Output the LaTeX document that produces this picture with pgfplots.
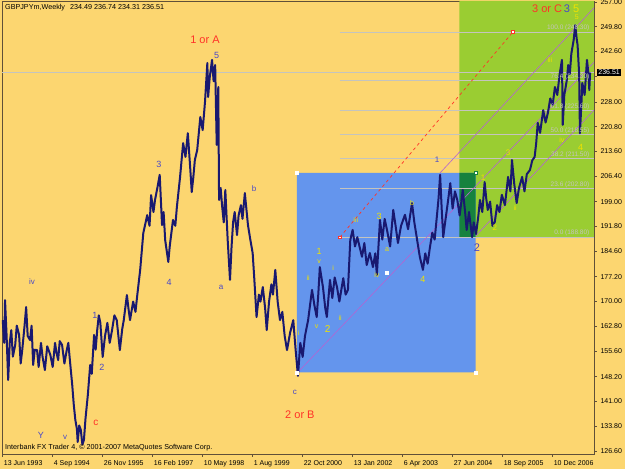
\documentclass[border=0pt]{standalone}
\usepackage{pgfplots}
\pgfplotsset{compat=1.18}
\usepackage{fontspec}
\setmainfont{Liberation Sans}
\definecolor{bgcol}{RGB}{252,214,112}
\definecolor{bluebox}{RGB}{100,149,237}
\definecolor{greenbox}{RGB}{154,205,50}
\definecolor{dkgreen}{RGB}{22,130,62}
\definecolor{price}{RGB}{25,25,112}
\definecolor{axcol}{RGB}{96,80,56}
\definecolor{fibgrey}{RGB}{196,196,190}
\definecolor{purp}{RGB}{180,100,210}
\definecolor{wred}{RGB}{255,50,40}
\definecolor{wblue}{RGB}{72,72,200}
\definecolor{wyel}{RGB}{240,226,0}
\pgfplotstableread{
w p
0 164.6
2 158.0
3 170.4
5 160.0
7 147.2
9 158.0
11 161.7
13 154.0
16 157.4
18 163.0
21 160.3
23 152.0
25 155.9
28 163.0
30 168.4
32 160.0
35 158.8
37 163.0
39 151.6
41 156.0
44 155.9
46 151.0
49 158.0
51 154.0
54 150.1
57 157.0
61 154.5
64 151.0
67 158.0
69 155.0
71 153.0
73 158.5
76 157.4
79 152.0
82 155.9
84 158.0
86 153.0
89 145.8
91 140.0
93 135.6
95 133.0
96 129.2
98 134.0
100 132.7
102 128.5
104 129.8
106 136.0
109 142.9
112 151.6
114 149.0
117 160.3
119 156.0
121 161.7
123 166.0
125 163.8
128 153.9
131 160.0
134 163.8
137 158.0
140 161.7
143 166.0
146 164.6
150 155.9
153 162.0
155 164.6
159 171.9
161 168.0
163 164.6
167 170.0
170 167.0
172 171.3
176 179.2
180 189.9
183 193.0
185 195.1
188 192.0
190 200.9
193 196.0
195 199.5
198 203.0
201 206.8
204 192.2
206 196.0
208 187.9
212 181.5
214 186.4
216 190.0
218 193.7
221 192.0
223 197.5
227 206.0
231 216.0
234 212.0
237 218.9
240 209.0
242 201.8
244 206.0
246 211.1
249 214.0
253 223.6
256 219.8
259 228.0
262 239.3
263 229.4
265 235.0
268 240.2
270 234.0
272 238.7
274 215.5
276 232.3
277 199.5
279 203.0
281 197.5
283 193.0
285 202.4
288 188.0
291 176.3
293 186.0
295 193.1
297 196.0
300 189.3
302 195.0
305 198.0
307 194.0
310 201.5
314 192.2
317 188.0
320 184.1
322 177.0
325 165.5
328 172.0
330 170.0
333 174.2
336 168.0
338 161.7
341 170.0
344 175.0
346 172.0
349 179.2
352 170.0
355 164.6
358 167.0
361 160.0
364 155.9
368 161.0
372 164.6
375 156.0
378 148.4
381 158.0
384 153.9
387 160.0
391 164.6
396 173.4
399 169.0
402 165.5
404 172.0
406 180.0
410 174.2
413 168.0
415 165.5
419 176.3
422 171.0
425 177.0
428 174.2
431 170.0
436 176.8
439 172.0
442 173.4
445 187.9
448 190.8
451 186.0
454 188.7
457 185.8
460 183.0
463 187.0
466 180.6
470 184.1
474 180.0
477 184.0
479 177.7
483 193.7
486 188.0
489 194.0
492 190.8
496 186.0
500 196.6
503 192.0
506 187.0
510 192.0
515 195.2
519 191.0
524 198.6
527 193.0
530 188.7
534 183.0
538 179.2
541 184.0
544 181.0
547 185.8
550 190.0
553 188.0
556 195.1
558 200.0
560 206.8
562 197.0
564 188.7
567 194.0
570 199.0
573 204.4
576 197.0
579 202.0
582 199.5
585 195.0
589 202.4
592 196.0
594 190.8
597 196.0
601 188.7
603 193.0
606 189.6
609 195.0
611 199.5
614 196.0
617 204.7
619 200.0
621 196.6
624 199.0
627 192.0
630 193.1
633 198.0
636 196.0
639 201.0
643 198.0
647 206.2
650 202.0
652 211.1
655 204.0
658 198.6
661 203.0
665 206.2
668 202.0
671 207.0
675 208.2
678 211.0
681 212.0
683 216.0
685 221.9
688 219.0
692 225.6
695 222.0
698 224.8
701 229.0
704 227.0
707 232.3
710 230.0
713 236.0
716 240.2
717 221.3
719 230.0
722 234.0
724 238.7
726 236.0
728 242.0
731 246.0
733 250.3
735 246.0
736 244.5
738 236.0
739 218.9
741 228.0
742 233.5
745 230.0
748 240.2
750 236.0
751 231.4
752 236.5
}\pricedata
\newcommand{\lab}[5]{\node[text=#3,font=\fontsize{#4}{#4}\selectfont,inner sep=0pt] at (axis cs:#1,#2) {#5};}
\begin{document}
\begin{tikzpicture}
\useasboundingbox (0,0) rectangle (625pt,469pt);
\fill[bgcol] (0,0) rectangle (625pt,469pt);
\begin{axis}[
  at={(2pt,15pt)}, anchor=south west,
  scale only axis, width=592pt, height=453pt,
  xmin=-0.9, xmax=757, ymin=125.72, ymax=257.29,
  axis line style={draw=axcol, line width=0.8pt},
  tick align=outside, major tick length=3pt,
  tick style={draw=axcol, line width=0.6pt},
  xtick pos=left, ytick pos=right, yticklabel pos=right,
  xtick={0,64,...,704},
  xticklabels={13 Jun 1993,4 Sep 1994,26 Nov 1995,16 Feb 1997,10 May 1998,1 Aug 1999,22 Oct 2000,13 Jan 2002,6 Apr 2003,27 Jun 2004,18 Sep 2005,10 Dec 2006},
  xticklabel style={anchor=north west, inner xsep=1pt, font=\fontsize{7}{8}\selectfont},
  ytick={126.6,133.8,141.0,148.2,155.6,162.8,170.0,177.2,184.6,191.8,199.0,206.4,213.6,220.8,228.0,242.6,249.8,257.0},
  extra y ticks={235.4}, extra y tick labels={},
  yticklabel style={font=\fontsize{7}{8}\selectfont, /pgf/number format/.cd, fixed, fixed zerofill, precision=2, 1000 sep={}, assume math mode=true},
  /pgf/number format/assume math mode=true,
  clip=true,
]
% coloured zones
\addplot[fill=greenbox, draw=none] coordinates {(584.5,188.8) (757,188.8) (757,257.29) (584.5,257.29) (584.5,188.8)};
\addplot[fill=bluebox, draw=none] coordinates {(376.5,149.4) (605.5,149.4) (605.5,207.4) (376.5,207.4) (376.5,149.4)};
\addplot[fill=dkgreen, draw=none] coordinates {(584.5,188.8) (605.5,188.8) (605.5,207.4) (584.5,207.4) (584.5,188.8)};
% price line (current)
\addplot[fibgrey, line width=0.6pt] coordinates {(-0.9,236.51) (757,236.51)};
% fibonacci levels
\addplot[fibgrey, line width=0.6pt] coordinates {(431.7,188.8) (757,188.8)};
\addplot[fibgrey, line width=0.6pt] coordinates {(431.7,202.8) (757,202.8)};
\addplot[fibgrey, line width=0.6pt] coordinates {(431.7,211.5) (757,211.5)};
\addplot[fibgrey, line width=0.6pt] coordinates {(431.7,218.55) (757,218.55)};
\addplot[fibgrey, line width=0.6pt] coordinates {(431.7,225.6) (757,225.6)};
\addplot[fibgrey, line width=0.6pt] coordinates {(431.7,234.3) (757,234.3)};
\addplot[fibgrey, line width=0.6pt] coordinates {(431.7,248.3) (757,248.3)};
% channel lines
\addplot[purp, line width=0.6pt] coordinates {(376.7,149.2) (757,239.5)};
\addplot[purp, line width=0.6pt] coordinates {(559.7,207.3) (757,255.3)};
\addplot[purp, line width=0.6pt] coordinates {(605.8,189.1) (757,225.6)};
% red dashed expansion line
\addplot[wred, dashed, line width=0.7pt] coordinates {(431.7,188.7) (653.2,248.3)};
% price
\addplot[price, line width=2.0pt, line join=round] table[x=w,y=p] {\pricedata};
% anchor squares
\addplot[only marks, mark=square*, mark size=1.4pt, mark options={fill=white, draw=white}] coordinates {(376.5,207.4) (605.5,149.4) (376.5,149.4) (492,178.3)};
\addplot[only marks, mark=square*, mark size=1.4pt, mark options={fill=white, draw=wred}] coordinates {(431.7,188.7) (653.2,248.3)};
\addplot[only marks, mark=square*, mark size=1.4pt, mark options={fill=white, draw=dkgreen}] coordinates {(605.5,207.4)};
% fib labels
\node[anchor=south east, text=fibgrey, font=\fontsize{6.5}{7}\selectfont, inner sep=0.5pt] at (axis cs:752,188.8) {0.0 (188.80)};
\node[anchor=south east, text=fibgrey, font=\fontsize{6.5}{7}\selectfont, inner sep=0.5pt] at (axis cs:752,202.8) {23.6 (202.80)};
\node[anchor=south east, text=fibgrey, font=\fontsize{6.5}{7}\selectfont, inner sep=0.5pt] at (axis cs:752,211.5) {38.2 (211.50)};
\node[anchor=south east, text=fibgrey, font=\fontsize{6.5}{7}\selectfont, inner sep=0.5pt] at (axis cs:752,218.55) {50.0 (218.55)};
\node[anchor=south east, text=fibgrey, font=\fontsize{6.5}{7}\selectfont, inner sep=0.5pt] at (axis cs:752,225.6) {61.8 (225.60)};
\node[anchor=south east, text=fibgrey, font=\fontsize{6.5}{7}\selectfont, inner sep=0.5pt] at (axis cs:752,234.3) {76.4 (234.30)};
\node[anchor=south east, text=fibgrey, font=\fontsize{6.5}{7}\selectfont, inner sep=0.5pt] at (axis cs:752,248.3) {100.0 (248.30)};
% wave labels (yellow zone)
\lab{259}{245.9}{wred}{11}{1 or A}
\lab{274}{241.6}{wblue}{9}{5}
\lab{200}{209.7}{wblue}{9}{3}
\lab{213}{175.7}{wblue}{9}{4}
\lab{322}{202.7}{wblue}{8}{b}
\lab{279.5}{174.2}{wblue}{8}{a}
\lab{37.5}{175.7}{wblue}{8}{iv}
\lab{118}{166.1}{wblue}{9}{1}
\lab{127}{151.0}{wblue}{9}{2}
\lab{119.4}{134.7}{wred}{10}{c}
\lab{49}{131.0}{wblue}{9}{Y}
\lab{80}{130.6}{wblue}{8}{v}
\lab{374}{143.7}{wblue}{8}{c}
\lab{380.5}{137.0}{wred}{11}{2 or B}
% blue zone
\lab{452}{193.7}{wyel}{7}{iii}
\lab{482}{194.6}{wyel}{9}{3}
\lab{524}{198.6}{wyel}{7}{b}
\lab{492}{185.0}{wyel}{7}{a}
\lab{479}{177.7}{wyel}{7}{iv}
\lab{538}{176.5}{wyel}{9}{4}
\lab{405}{184.5}{wyel}{9}{1}
\lab{405}{181.6}{wyel}{7}{v}
\lab{391}{176.8}{wyel}{7}{ii}
\lab{423}{179.7}{wyel}{7}{i}
\lab{432}{165.2}{wyel}{7}{ii}
\lab{402}{162.6}{wyel}{7}{v}
\lab{416}{162.0}{wyel}{10}{2}
\lab{379}{160.9}{wyel}{7}{i}
% green zone
\lab{556}{211.2}{wblue}{8}{1}
\lab{607}{185.6}{wblue}{11}{2}
\lab{615}{205.9}{wyel}{8}{1}
\lab{630}{191.4}{wyel}{8}{2}
\lab{647}{213.1}{wyel}{8}{3}
\lab{656}{197.2}{wyel}{7}{ii}
\lab{700.5}{240.2}{wyel}{7}{iii}
\lab{716}{216.8}{wyel}{7}{iv}
\lab{740}{214.9}{wyel}{9}{4}
\lab{735}{252.6}{wyel}{7}{5}
\node[anchor=west, inner sep=0pt, font=\fontsize{11}{11}\selectfont] at (axis cs:677.5,255.0) {\textcolor{wred}{3 or C}\,\textcolor{wblue}{3}\hspace{3pt}\textcolor{wyel}{5}};
% header and footer text
\node[anchor=west, inner sep=0pt, font=\fontsize{7.2}{8}\selectfont] at (axis cs:2.9,255.5) {GBPJPYm,Weekly\hspace{5pt}234.49 236.74 234.31 236.51};
\node[anchor=west, inner sep=0pt, font=\fontsize{7.2}{8}\selectfont] at (axis cs:2.9,127.6) {Interbank FX Trader 4, © 2001-2007 MetaQuotes Software Corp.};
\coordinate (pl) at (axis cs:757,236.51);
\end{axis}
\node[anchor=west, fill=black, text=white, inner xsep=1.2pt, inner ysep=1.2pt, font=\fontsize{7}{8}\selectfont, xshift=3pt] at (pl) {236.51};
\end{tikzpicture}
\end{document}
